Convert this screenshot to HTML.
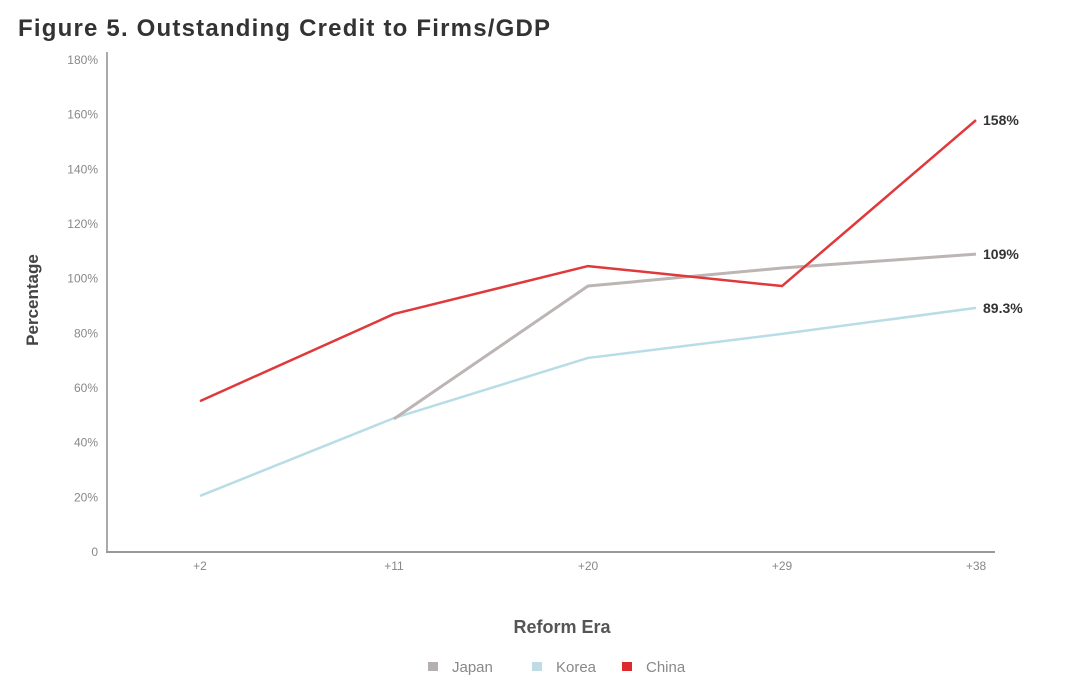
<!DOCTYPE html>
<html><head><meta charset="utf-8"><style>
body{margin:0;background:#fff;width:1080px;height:680px;overflow:hidden;font-family:"Liberation Sans",sans-serif}
</style></head><body>
<svg width="1080" height="680" id="chart" xmlns="http://www.w3.org/2000/svg">
<text x="18" y="36" font-size="24" font-weight="bold" letter-spacing="1.2" fill="#333">Figure 5. Outstanding Credit to Firms/GDP</text>
<text x="0" y="0" transform="translate(38,300) rotate(-90)" text-anchor="middle" font-size="17" font-weight="bold" fill="#444">Percentage</text>
<text x="562" y="633" text-anchor="middle" font-size="18" font-weight="bold" fill="#555">Reform Era</text>
<g id="axes"></g><g id="series"></g><g id="legend"></g>
</svg>
<script>
const categories=["+2","+11","+20","+29","+38"];
const yTicks=[0,20,40,60,80,100,120,140,160,180];
const japan=[null,48.7,97.3,103.9,109];
const korea=[20.5,49,71,79.8,89.3];
const china=[55.2,87.1,104.6,97.3,158];
const endLabels=["109%","89.3%","158%"];
const NS="http://www.w3.org/2000/svg";
function x(i){return 200+i*194;}
function y(v){return 552-v*(492/180);}
function mk(t,a,p){const e=document.createElementNS(NS,t);for(const k in a)e.setAttribute(k,a[k]);p.appendChild(e);return e;}
const ax=document.getElementById('axes'),sg=document.getElementById('series'),lg=document.getElementById('legend');
let l=mk('line',{x1:107,y1:52,x2:107,y2:552,stroke:'#aaa','stroke-width':2},ax);


l=mk('line',{x1:106,y1:552,x2:995,y2:552,stroke:'#999','stroke-width':2},ax);


yTicks.forEach(v=>{const t=mk('text',{x:98,y:y(v)+4,'text-anchor':'end','font-size':12,fill:'#888'},ax);t.textContent=v===0?'0':v+'%';

});
categories.forEach((c,i)=>{const t=mk('text',{x:x(i),y:570,'text-anchor':'middle','font-size':12,fill:'#888'},ax);t.textContent=c;

});
function line(data,color,name,w){const pts=[];data.forEach((v,i)=>{if(v!==null)pts.push(x(i)+','+y(v));});
const p=mk('polyline',{points:pts.join(' '),fill:'none',stroke:color,'stroke-width':w,'stroke-linejoin':'round'},sg);

}
line(korea,'#b9dde6','korea-line',2.5);
line(japan,'#bdb4b4','japan-line',3);
line(china,'#e0393b','china-line',2.5);
[[japan,0],[korea,1],[china,2]].forEach(([d,k])=>{const t=mk('text',{x:983,y:y(d[4])+5,'font-size':14,'font-weight':'bold',fill:'#333'},sg);t.textContent=endLabels[k];

});
[['Japan','#b5b0b0',428],['Korea','#bfdbe5',532],['China','#dd2a2e',622]].forEach(([n,c,lx])=>{
const g=mk('g',{},lg);


mk('rect',{x:lx,y:662,width:10,height:9,fill:c},g);
const t=mk('text',{x:lx+24,y:672,'font-size':15,fill:'#888'},g);t.textContent=n;});
</script>
</body></html>
